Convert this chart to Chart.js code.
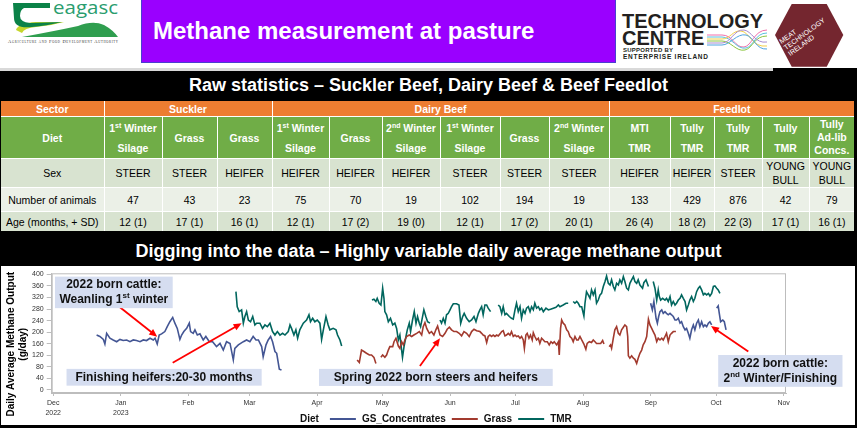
<!DOCTYPE html>
<html>
<head>
<meta charset="utf-8">
<script src="https://cdn.jsdelivr.net/npm/chart.js@4.4.1/dist/chart.umd.min.js"></script>
<style>
  body { margin: 0; background: #000; }
  #slide { position: relative; width: 857px; height: 428px; background: #000; overflow: hidden;
           font-family: "Liberation Sans", Arial, sans-serif; }
  #head { position: absolute; left: 0; top: 0; width: 857px; height: 68px; background: #fff; }
  #band { position: absolute; left: 0; top: 68px; width: 773px; height: 3px; background: #d9d9d9; }
  #purple { position: absolute; left: 141px; top: 0; width: 473px; height: 62px; background: #9a00ff;
            border: 1px solid #4a3fd0; border-top: none; }
  #purple span { position: absolute; left: 11px; top: 17px; color: #fff; font-weight: bold; font-size: 24px;
                 white-space: nowrap; }
  .bar { position: absolute; left: 0; width: 857px; color: #fff; font-weight: bold; font-size: 18px;
         text-align: center; white-space: nowrap; }
  #bar1 { top: 71px; height: 29px; line-height: 29px; }
  #bar2 { top: 237px; height: 29px; line-height: 29px; }
  #stats { position: absolute; left: 1px; top: 101px; width: 853px; border-collapse: collapse;
           table-layout: fixed; font-size: 10.5px; border-style: hidden; }
  #stats td { border: 1.5px solid #fff; padding: 0; text-align: center; vertical-align: middle;
              overflow: hidden; white-space: nowrap; }
  #stats sup { font-size: 7px; line-height: 0; vertical-align: 4px; }
  #stats tr.sector td { background: #ed7d31; color: #fff; font-weight: bold; height: 15px; }
  #stats tr.diet td { background: #70ad47; color: #fff; font-weight: bold; height: 41px; line-height: 20px; }
  #stats tr.diet td.three { line-height: 13px; }
  #stats tr.sex td { background: #d8e3d0; height: 28px; line-height: 14px; }
  #stats tr.num td { background: #ebf0e7; height: 23px; }
  #stats tr.age td { background: #d8e3d0; height: 19px; }
  #plotbox { position: absolute; left: 1px; top: 266px; width: 854px; height: 159px; background: #fff; }
  #plotbox canvas { position: absolute; left: 0; top: 0; }
</style>
</head>
<body>
<div id="slide">
  <div id="head">
    <svg width="857" height="68" style="position:absolute;left:0;top:0">
      <!-- Teagasc mark -->
      <path d="M22 37 Q55 31 78 26 Q93 20 104 25 Q113 30 118 37 Z" fill="#2f9e4f"/>
      <path d="M16 30 Q18 23 36 22 L64 22 Q50 26 36 27 Q24 28 22 33 Z" fill="#c5d62b"/>
      <path d="M13 3 H50 V8 H24 Q20 10 20 16 Q20 22 30 23 L62 22 Q46 26 32 27 Q14 29 14 18 Z" fill="#0b8248"/>
      <text x="53" y="14" font-family="Open Sans, DejaVu Sans" font-size="18" fill="#2a9d6e"
            textLength="65" lengthAdjust="spacingAndGlyphs">eagasc</text>
      <text x="8" y="43" font-family="Liberation Serif" font-size="4.6" fill="#333" textLength="110"
            style="font-variant:small-caps">Agriculture and Food Development Authority</text>
      <!-- Technology Centre -->
      <text x="622" y="28" font-family="Liberation Sans" font-weight="bold" font-size="20" fill="#231f20">TECHNOLOGY</text>
      <text x="622" y="45" font-family="Liberation Sans" font-weight="bold" font-size="20" fill="#231f20">CENTRE</text>
      <text x="623" y="51.5" font-family="Liberation Sans" font-weight="bold" font-size="6" fill="#231f20" textLength="50">SUPPORTED BY</text>
      <text x="623" y="58.5" font-family="Liberation Sans" font-weight="bold" font-size="6.5" fill="#231f20" textLength="85">ENTERPRISE IRELAND</text>
      <g fill="none" stroke-width="1">
        <path d="M707 35 H722 C733 35 735 48 744 47 C752 46 754 30 767 30" stroke="#f06eaa"/>
        <path d="M707 37 H722 C732 37 737 50 746 48 C754 46 755 33 767 33" stroke="#5bc0de"/>
        <path d="M707 39 H722 C730 39 733 30 741 31 C750 32 752 48 767 46" stroke="#f2cf4a"/>
        <path d="M707 41 H722 C731 41 736 52 745 50 C753 48 754 36 767 36" stroke="#8dc63f"/>
        <path d="M707 43 H722 C731 43 734 29 744 30 C752 31 755 44 767 42" stroke="#a78bd0"/>
        <path d="M707 45 H722 C730 45 737 33 746 35 C754 37 756 50 767 49" stroke="#4fa3e0"/>
      </g>
      <!-- Meat Technology Ireland -->
      <polygon points="775,35 791.7,4 826.7,4 843.3,35 826.7,66.7 791.7,66.7" fill="#74262f"/>
      <g transform="translate(788,53) rotate(-36)" font-family="Liberation Sans" font-size="7" fill="#fff">
        <text x="0" y="-11">MEAT</text>
        <text x="0" y="-3.5">TECHNOLOGY</text>
        <text x="0" y="4">IRELAND</text>
      </g>
    </svg>
    <div id="purple"><span>Methane measurement at pasture</span></div>
  </div>
  <div id="band"></div>
  <div class="bar" id="bar1">Raw statistics – Suckler Beef, Dairy Beef &amp; Beef Feedlot</div>
  <table id="stats"></table>
  <div class="bar" id="bar2">Digging into the data – Highly variable daily average methane output</div>
  <div id="plotbox"><canvas id="ch4" width="854" height="159"></canvas></div>
</div>

<script>
// ---- table values ----
const sectors = [['Suckler', 3], ['Dairy Beef', 6], ['Feedlot', 5]];
const diets = ['1^st^ Winter|Silage', 'Grass', 'Grass', '1^st^ Winter|Silage', 'Grass', '2^nd^ Winter|Silage',
               '1^st^ Winter|Silage', 'Grass', '2^nd^ Winter|Silage', 'MTI|TMR', 'Tully|TMR', 'Tully|TMR',
               'Tully|TMR', 'Tully|Ad-lib|Concs.'];
const sexes = ['STEER', 'STEER', 'HEIFER', 'HEIFER', 'HEIFER', 'HEIFER', 'STEER', 'STEER', 'STEER',
               'HEIFER', 'HEIFER', 'STEER', 'YOUNG|BULL', 'YOUNG|BULL'];
const animals = [47, 43, 23, 75, 70, 19, 102, 194, 19, 133, 429, 876, 42, 79];
const ages = ['12 (1)', '17 (1)', '16 (1)', '12 (1)', '17 (2)', '19 (0)', '12 (1)', '17 (2)', '20 (1)',
              '26 (4)', '18 (2)', '22 (3)', '17 (1)', '16 (1)'];

// ---- chart values: [days since 1 Dec 2022, g CH4/day]; null = no record ----
const gsConcentrates = [
  [19.9,190],[21.4,185],[23.0,175],[23.7,159],[24.5,196],[26.0,179],[27.5,173],[29.1,167],[30.6,175],[32.1,171],
  [33.7,173],[35.2,167],[36.7,173],[38.2,171],[39.8,167],[41.3,173],[42.8,171],[44.4,179],[45.9,173],[46.7,179],
  [47.7,159],[48.6,190],[49.7,194],[51.2,202],[52.3,219],[53.5,236],[54.8,251],[55.8,231],[56.9,213],[58.1,175],
  [58.9,190],[59.9,202],[61.2,213],[62.4,231],[63.0,202],[64.2,196],[65.0,208],[66.1,190],[67.3,194],[68.8,173],
  [70.0,185],[71.6,167],[73.1,167],[74.9,150],[76.5,161],[78.0,138],[79.5,167],[81.1,161],[82.6,104],[83.3,144],
  [84.9,156],[87.2,167],[88.7,173],[90.2,167],[91.7,185],[93.0,173],[94.1,173],[95.6,150],[96.3,115],[97.6,156],
  [98.6,173],[99.7,185],[100.6,167],[101.7,133],[102.5,127],[103.7,72],[104.7,69],
  [190,null],
  [274.0,300],[274.8,277],[275.5,306],[276.5,248],[277.1,231],[277.7,254],[278.3,271],[279.1,277],[279.8,265],
  [280.6,271],[281.3,265],[282.1,260],[282.9,265],[283.6,260],[284.4,254],[285.2,242],[285.9,242],[286.7,248],
  [287.5,231],[288.2,236],[289.0,219],[289.8,208],[290.5,213],[291.3,196],[292.0,179],[292.8,208],[293.6,225],
  [294.3,208],[295.1,231],[295.9,242],[296.6,219],[297.4,236],[298.2,219],[298.9,225],[299.7,219],[300.5,231],
  [301.2,236],[302.0,225],
  [303.2,null],
  [304.3,283],[305.0,291],[305.5,265],[306.1,236],[307.1,242],[307.8,236],[308.6,208]
];

const grass = [
  [139.4,104],[140.4,95],[141.4,138],[142.5,133],[143.7,127],[145.0,121],[146.0,121],[147.1,113],[148.0,92],
  [149.2,null],
  [150.3,113],[151.1,121],[152.1,113],[152.9,121],[153.7,138],[154.4,150],[155.7,150],[156.3,167],[157.2,179],
  [158.3,152],[159.0,144],[159.8,167],[160.6,156],[161.3,173],[162.1,185],[163.3,190],[164.4,185],[165.4,190],
  [166.7,196],[167.9,202],[169.0,190],[169.7,219],[170.5,233],[171.3,213],[172.5,196],[173.5,202],[174.6,190],
  [175.5,208],[176.3,221],[177.4,190],[178.6,185],[179.7,196],[180.7,210],[181.7,217],[182.7,208],[183.8,202],
  [185.0,202],[186.2,196],[187.3,187],[188.4,202],[189.6,196],[190.8,185],[191.9,202],[193.0,210],[194.2,205],
  [195.7,202],[196.5,196],[197.2,190],[198.0,187],[198.8,164],[199.5,185],[200.3,190],[201.1,185],[201.8,190],
  [202.6,185],[203.4,190],[204.1,187],[204.9,194],[205.7,202],[206.4,205],[207.2,187],[207.9,190],[208.7,196],
  [209.5,190],[210.2,202],[211.0,185],[211.8,190],[212.5,185],[213.3,187],[214.1,179],[214.8,185],[215.6,173],
  [216.1,144],[216.8,190],[217.4,196],[218.2,179],[218.9,190],[219.7,173],[220.2,198],[220.9,185],[221.7,173],
  [222.5,179],[223.2,161],[224.0,179],[224.8,173],[225.5,167],[226.6,167],[227.5,156],[228.3,167],[229.1,161],
  [229.8,167],[230.9,156],[231.7,167],[232.1,121],[232.7,213],[233.2,242],[233.9,231],[234.7,225],[235.5,208],
  [236.2,202],[237.0,185],[237.8,179],[238.5,167],[239.3,185],[240.1,173],[240.8,173],[241.6,185],[242.4,173],
  [243.4,159],[244.3,141],[244.9,161],[245.9,167],[246.9,164],[247.7,173],[248.5,167],[249.2,161],[250.0,161],
  [251.1,161],[252.0,171],[252.6,159],
  [253.8,null],
  [255.0,150],[255.6,156],[256.1,144],[256.9,179],[257.6,208],[258.4,219],[259.2,196],[259.9,190],[260.7,208],
  [261.5,217],[262.2,225],[263.0,219],[263.5,185],[263.8,118],[264.5,110],[265.3,118],[266.1,110],[266.8,106],
  [267.6,92],[268.3,110],[269.1,127],[269.9,138],[270.6,156],[271.4,167],[272.2,185],[273.0,245],[273.7,225],
  [274.5,213],[275.2,202],[276.0,190],[276.8,167],[277.5,179],[278.3,173],[279.1,179],[279.8,173],[280.6,185],
  [281.3,196],[282.1,167],[282.9,190],[283.6,196],[284.4,202],[285.6,202]
];

const tmr = [
  [83.8,340],[84.4,288],[85.3,271],[86.4,277],[87.2,231],[87.9,254],[88.7,271],[89.5,242],[90.5,236],[91.5,254],
  [92.5,225],[93.3,231],[94.8,231],[96.0,213],[97.1,225],[98.2,219],[99.4,231],[100.6,202],[101.7,190],[102.8,202],
  [104.0,190],[105.2,196],[106.3,190],[107.8,202],[108.6,225],[109.3,213],[110.4,190],[111.3,208],[112.1,179],
  [113.1,208],[114.7,231],[116.2,242],[117.3,260],[118.0,236],[119.0,248],[120.0,236],[121.1,242],[122.3,231],
  [123.1,175],[123.9,208],[125.1,254],[126.1,225],[126.9,208],[128.4,213],[129.7,208],[130.4,190],[131.5,173],
  [132.3,152],
  [140,null],
  [146.2,311],[147.1,314],[148.0,306],[148.6,317],[149.5,300],[150.3,294],[151.1,352],[151.7,317],[152.1,271],
  [152.9,260],[153.7,236],[154.7,248],[155.7,225],[156.7,231],[157.5,213],[158.3,173],[159.0,190],[159.8,138],
  [160.2,113],[160.9,150],[161.8,185],[162.4,208],[163.3,231],[163.9,202],[164.8,242],[165.6,271],[166.4,231],
  [167.1,254],[167.9,231],[168.5,219],[169.4,254],[170.0,277],[170.9,254],[171.7,236],[172.8,231],
  [175,null],
  [177.4,242],[178.1,231],[178.9,248],[179.7,231],[180.4,260],[181.2,265],[182.0,277],[182.7,288],[183.5,298],
  [185.0,298],[186.1,294],[186.9,231],[187.8,254],[188.5,265],[189.6,248],[190.8,236],[191.9,242],[193.0,254],
  [193.9,236],[195.0,265],[195.7,277],[196.5,288],[197.2,260],[198.0,294],[198.8,294],[199.5,283],[200.6,271],
  [202.3,null],
  [204.1,294],[204.9,288],[205.7,265],[206.4,288],[207.2,260],[207.9,265],[209.2,254],[210.2,248],[211.0,245],
  [211.8,277],[212.5,300],[213.3,271],[214.1,288],[214.8,248],[215.6,277],[216.4,265],[217.1,283],[217.9,288],
  [218.7,271],[219.4,288],[220.2,277],[220.9,300],[221.7,283],[222.5,288],[223.2,277],[224.0,283],[224.8,271],
  [226.0,283],[227.1,277],[228.1,279],[229.4,283],[230.6,286],[231.7,294],[232.4,288],[233.9,294],[235.2,300],
  [236.2,300],
  [237.3,null],
  [238.5,306],[239.3,300],[240.1,306],[240.8,300],[241.6,288],[242.4,288],[243.4,256],[243.9,300],[244.6,340],
  [245.4,329],[246.2,317],[246.9,346],[247.7,329],[248.5,346],[249.2,300],[250.0,311],[250.8,329],[251.5,334],
  [252.3,358],[253.1,375],[253.8,394],[254.6,369],[255.4,363],[256.1,381],[256.9,358],[257.6,346],[258.4,369],
  [259.2,363],[259.9,381],[260.7,369],[261.5,392],[262.2,375],[263.0,352],[263.8,346],[264.5,369],[265.3,381],
  [266.1,392],[266.8,375],[267.6,369],[268.3,381],[269.1,363],[270.3,352],[270.9,371],[271.9,381],[273.0,358],
  [274.1,null],
  [275.2,375],[276.0,352],[276.8,311],[277.5,346],[278.0,323],[278.6,311],[279.5,317],[280.6,311],[281.3,317],
  [282.1,306],[282.9,323],[283.6,294],[284.4,306],[285.2,294],[285.9,300],[286.7,311],[287.5,317],[288.2,329],
  [289.0,317],[289.8,306],[290.5,277],[291.3,294],[292.0,311],[292.8,323],[293.6,306],[294.3,317],[295.1,340],
  [295.9,352],[296.6,358],[297.4,346],[298.2,329],[298.9,334],[299.7,329],[300.5,334],[301.2,325],[302.0,334],
  [302.8,358],[303.5,360],[304.3,352],[305.0,346],[305.8,334]
];

const monthTicks = [0, 31, 62, 90, 121, 151, 182, 212, 243, 274, 304, 335];
const monthLabels = [['Dec', '2022'], ['Jan', '2023'], 'Feb', 'Mar', 'Apr', 'May', 'Jun', 'Jul', 'Aug', 'Sep', 'Oct', 'Nov'];
const yTicks = [0, 40, 80, 120, 160, 200, 240, 280, 320, 360, 400];

// ---- build the table ----
const fmt = s => s.replace(/\^(.*?)\^/g, '<sup>$1</sup>').split('|').join('<br>');
const colWidths = [103, 58, 55, 55, 57, 53, 58, 60, 49, 60, 61, 44, 48, 47, 45];
let html = '<colgroup>' + colWidths.map(w => `<col style="width:${w}px">`).join('') + '</colgroup>';
html += '<tr class="sector"><td>Sector</td>' + sectors.map(([n, span]) => `<td colspan="${span}">${n}</td>`).join('') + '</tr>';
html += '<tr class="diet"><td>Diet</td>' + diets.map(d => `<td${d.split('|').length > 2 ? ' class="three"' : ''}>${fmt(d)}</td>`).join('') + '</tr>';
html += '<tr class="sex"><td>Sex</td>' + sexes.map(s => `<td>${fmt(s)}</td>`).join('') + '</tr>';
html += '<tr class="num"><td>Number of animals</td>' + animals.map(n => `<td>${n}</td>`).join('') + '</tr>';
html += '<tr class="age"><td>Age (months, + SD)</td>' + ages.map(a => `<td>${a}</td>`).join('') + '</tr>';
document.getElementById('stats').innerHTML = html;

// ---- annotations (data units) ----
const noteBoxes = [
  { x0: 0.8, x1: 54.8, y0: 283, y1: 392, lines: ['2022 born cattle:', 'Weanling 1^st^ winter'] },
  { x0: 6.1, x1: 95.6, y0: 15, y1: 73, lines: ['Finishing heifers:20-30 months'] },
  { x0: 121.9, x1: 229.1, y0: 14, y1: 73, lines: ['Spring 2022 born steers and heifers'] },
  { x0: 305, x1: 362, y0: 11, y1: 121, lines: ['2022 born cattle:', '2^nd^ Winter/Finishing'] }
];
const noteArrows = [
  { from: [30.3, 288], to: [47.7, 184] },
  { from: [54.8, 94], to: [86.4, 231] },
  { from: [168.2, 83], to: [177.4, 179] },
  { from: [318.8, 133], to: [301.7, 221] }
];

Chart.defaults.font.family = '"Liberation Sans", Arial, sans-serif';
const GRAY = '#bdbdbd';

const framePlugin = {
  id: 'frame',
  beforeDatasetsDraw(chart) {
    const { ctx, chartArea: a } = chart;
    ctx.save();
    ctx.strokeStyle = GRAY;
    ctx.lineWidth = 1;
    ctx.strokeRect(a.left + 0.5, a.top + 0.5, a.right - a.left - 1, a.bottom - a.top - 1);
    ctx.restore();
  }
};

const notesPlugin = {
  id: 'notes',
  afterDatasetsDraw(chart) {
    const { ctx, scales: { x, y } } = chart;
    ctx.save();
    noteArrows.forEach(a => {
      const x0 = x.getPixelForValue(a.from[0]), y0 = y.getPixelForValue(a.from[1]);
      const x1 = x.getPixelForValue(a.to[0]), y1 = y.getPixelForValue(a.to[1]);
      const ang = Math.atan2(y1 - y0, x1 - x0), c = Math.cos(ang), s = Math.sin(ang);
      ctx.strokeStyle = ctx.fillStyle = '#ff0000';
      ctx.lineWidth = 1.8;
      ctx.beginPath(); ctx.moveTo(x0, y0); ctx.lineTo(x1 - 6 * c, y1 - 6 * s); ctx.stroke();
      ctx.beginPath(); ctx.moveTo(x1, y1);
      ctx.lineTo(x1 - 8 * c + 3.5 * s, y1 - 8 * s - 3.5 * c);
      ctx.lineTo(x1 - 8 * c - 3.5 * s, y1 - 8 * s + 3.5 * c);
      ctx.closePath(); ctx.fill();
    });
    const big = 'bold 12px "Liberation Sans", Arial', small = 'bold 8px "Liberation Sans", Arial';
    noteBoxes.forEach(b => {
      const l = x.getPixelForValue(b.x0), r = x.getPixelForValue(b.x1);
      const t = y.getPixelForValue(b.y1), bt = y.getPixelForValue(b.y0);
      ctx.fillStyle = '#d5ddf0';
      ctx.fillRect(l, t, r - l, bt - t);
      ctx.fillStyle = '#111';
      ctx.textBaseline = 'middle';
      const lh = 15, cy = (t + bt) / 2 - (b.lines.length - 1) * lh / 2;
      b.lines.forEach((line, i) => {
        const parts = line.split('^');
        let w = 0;
        parts.forEach((p, k) => { ctx.font = k % 2 ? small : big; w += ctx.measureText(p).width; });
        let px = (l + r) / 2 - w / 2;
        parts.forEach((p, k) => {
          ctx.font = k % 2 ? small : big;
          ctx.fillText(p, px, cy + i * lh - (k % 2 ? 4 : 0));
          px += ctx.measureText(p).width;
        });
      });
    });
    ctx.restore();
  }
};

const legendPlugin = {
  id: 'dietLegend',
  afterDraw(chart, args, opts) {
    const ctx = chart.ctx;
    ctx.save();
    ctx.font = 'bold 10px "Liberation Sans", Arial';
    ctx.textBaseline = 'middle';
    ctx.fillStyle = '#111';
    let x = opts.left;
    const y = opts.top;
    ctx.fillText(opts.title, x, y);
    x += ctx.measureText(opts.title).width + 11;
    chart.data.datasets.forEach(ds => {
      ctx.strokeStyle = ds.borderColor;
      ctx.lineWidth = 2;
      ctx.beginPath(); ctx.moveTo(x, y); ctx.lineTo(x + 26, y); ctx.stroke();
      x += 32;
      ctx.fillText(ds.label, x, y);
      x += ctx.measureText(ds.label).width + 6;
    });
    ctx.restore();
  }
};

const toPoints = arr => arr.map(([d, v]) => ({ x: d, y: v }));
const pad = '\u00a0'.repeat(8);

new Chart(document.getElementById('ch4'), {
  type: 'line',
  data: {
    datasets: [
      { label: 'GS_Concentrates', data: toPoints(gsConcentrates), borderColor: '#445694' },
      { label: 'Grass', data: toPoints(grass), borderColor: '#a23a2e' },
      { label: 'TMR', data: toPoints(tmr), borderColor: '#01665e' }
    ]
  },
  options: {
    responsive: false,
    animation: false,
    layout: { padding: { left: 0, right: 69, top: 7.3, bottom: 0 } },
    elements: { point: { radius: 0 }, line: { borderWidth: 1.6, tension: 0 } },
    plugins: {
      legend: { display: false },
      tooltip: { enabled: false },
      dietLegend: { title: 'Diet', left: 299, top: 153 }
    },
    scales: {
      x: {
        type: 'linear', min: -0.7, max: 336.1,
        afterFit(s) { s.height = 32; },
        afterBuildTicks(s) { s.ticks = monthTicks.map(v => ({ value: v })); },
        grid: { display: true, drawOnChartArea: false, drawTicks: true, tickLength: 3, color: GRAY },
        border: { color: GRAY },
        ticks: {
          autoSkip: false, maxRotation: 0, padding: 2, color: '#333',
          font: { size: 7, lineHeight: 1.4 },
          callback: v => monthLabels[monthTicks.indexOf(v)]
        }
      },
      y: {
        min: -10.4, max: 403.5,
        afterFit(s) { s.width = 50.7; },
        afterBuildTicks(s) { s.ticks = yTicks.map(v => ({ value: v })); },
        grid: { display: true, drawOnChartArea: false, drawTicks: true, tickLength: 5, color: GRAY },
        border: { color: GRAY },
        ticks: { padding: 3, color: '#333', font: { size: 7 } },
        title: {
          display: true, color: '#000',
          text: ['Daily Average Methane Output' + pad, '(g/day)' + pad],
          font: { size: 10, weight: 'bold', lineHeight: 1.2 },
          padding: { top: 4.7, bottom: 0 }
        }
      }
    }
  },
  plugins: [framePlugin, notesPlugin, legendPlugin]
});
</script>
</body>
</html>
